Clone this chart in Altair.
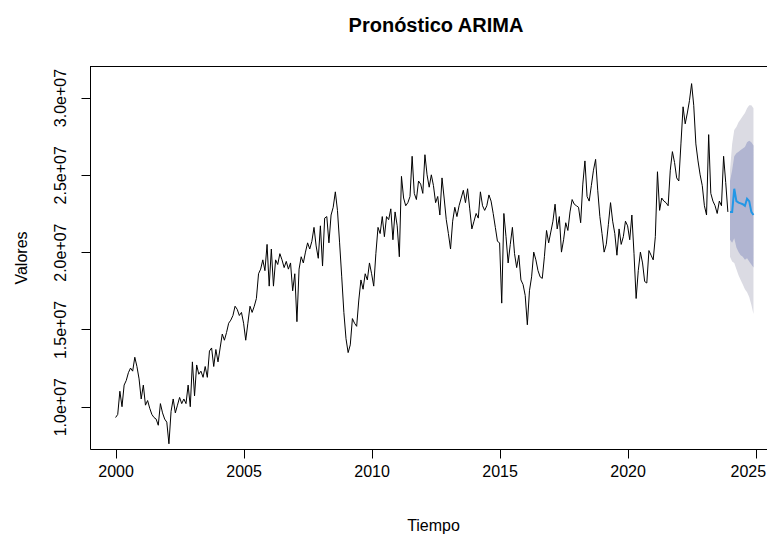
import altair as alt
import pandas as pd

# Monthly values (millions), Jan..Dec of each year
years = list(range(2000, 2024))
v2000 = [9.3, 9.5, 11.0, 10.0, 11.4, 11.7, 12.2, 12.5, 12.3, 13.2, 12.6, 11.8]
v2001 = [10.5, 11.4, 10.1, 10.4, 9.9, 9.5, 9.3, 9.2, 8.8, 10.2, 9.6, 9.2]
v2002 = [9.0, 7.6, 9.7, 10.5, 9.6, 10.1, 10.6, 10.2, 10.5, 10.2, 11.4, 10.0]
v2003 = [12.9, 10.7, 12.7, 12.1, 12.3, 11.9, 12.6, 11.9, 13.6, 13.8, 12.6, 13.7]
v2004 = [12.9, 13.8, 14.7, 14.3, 14.8, 15.4, 15.6, 15.9, 16.5, 16.3, 15.9, 16.1]
v2005 = [15.4, 14.3, 15.4, 16.5, 16.1, 16.5, 17.0, 18.6, 18.9, 19.5, 18.8, 20.5]
v2006 = [17.8, 20.2, 17.8, 19.5, 19.2, 19.9, 19.5, 19.0, 19.4, 18.9, 19.3, 17.5]
v2007 = [18.6, 15.5, 18.9, 19.7, 19.3, 20.0, 20.6, 20.2, 20.7, 21.6, 20.4, 19.6]
v2008 = [21.7, 19.1, 22.2, 22.3, 20.6, 22.4, 22.9, 23.9, 22.7, 20.6, 18.4, 16.1]
v2009 = [14.4, 13.5, 14.0, 15.7, 15.4, 15.2, 16.9, 18.2, 17.6, 18.6, 18.2, 19.3]
v2010 = [18.6, 17.8, 19.9, 21.6, 21.2, 22.3, 21.0, 22.3, 22.1, 22.8, 20.8, 22.6]
v2011 = [21.7, 19.7, 24.9, 23.5, 23.0, 23.2, 23.6, 26.2, 23.8, 23.4, 24.6, 24.4]
v2012 = [23.8, 26.3, 25.0, 24.2, 25.0, 24.3, 23.2, 23.6, 22.4, 24.8, 23.5, 22.1]
v2013 = [21.2, 20.2, 22.0, 22.9, 22.3, 23.0, 23.5, 24.0, 23.2, 24.1, 22.8, 21.5]
v2014 = [22.0, 22.5, 22.2, 23.9, 23.0, 22.7, 23.0, 23.7, 23.3, 22.5, 21.6, 20.7]
v2015 = [20.6, 16.7, 22.5, 21.0, 19.3, 20.5, 21.6, 19.9, 19.0, 19.8, 18.2, 17.9]
v2016 = [17.2, 15.3, 17.5, 18.4, 20.0, 19.5, 18.8, 18.4, 18.3, 19.7, 21.4, 20.6]
v2017 = [21.3, 22.0, 23.1, 21.5, 22.3, 20.0, 20.8, 21.9, 21.4, 22.6, 23.4, 23.1]
v2018 = [23.0, 22.9, 21.9, 24.4, 25.9, 23.6, 23.3, 24.3, 25.3, 26.0, 24.0, 22.3]
v2019 = [21.2, 20.0, 20.5, 21.8, 23.2, 22.0, 21.2, 19.8, 21.5, 20.5, 21.0, 22.0]
v2020 = [21.7, 20.8, 22.4, 19.9, 17.0, 18.8, 20.0, 19.3, 18.1, 18.0, 20.1, 19.8]
v2021 = [19.5, 21.0, 25.2, 22.7, 23.5, 23.3, 23.2, 23.0, 25.3, 26.5, 25.8, 24.8]
v2022 = [24.6, 27.0, 29.4, 28.3, 29.0, 29.8, 30.9, 29.5, 27.0, 25.9, 25.0, 24.3]
v2023 = [23.0, 22.4, 27.6, 23.8, 23.3, 23.0, 22.5, 23.3, 23.0, 26.2, 24.5, 22.6]
hist_by_year = [v2000, v2001, v2002, v2003, v2004, v2005, v2006, v2007, v2008,
                v2009, v2010, v2011, v2012, v2013, v2014, v2015, v2016, v2017,
                v2018, v2019, v2020, v2021, v2022, v2023]

# Forecast 2024 (millions)
fc_year = 2024
fc_mean = [22.6, 22.6, 24.1, 23.3, 23.2, 23.15, 23.1, 23.0, 23.45, 23.3, 22.6, 22.4]
fc_lo80 = [20.8, 20.6, 20.9, 20.3, 20.0, 19.8, 19.7, 19.5, 19.6, 19.4, 19.2, 19.0]
fc_hi80 = [24.6, 25.3, 26.2, 26.4, 26.5, 26.6, 26.7, 26.8, 27.1, 27.2, 27.1, 26.9]
fc_lo95 = [19.7, 19.4, 19.3, 18.9, 18.5, 18.2, 17.9, 17.6, 17.4, 17.1, 16.6, 16.0]
fc_hi95 = [25.3, 27.0, 27.9, 28.1, 28.4, 28.6, 28.8, 29.0, 29.3, 29.5, 29.5, 29.3]

x_ticks = [2000, 2005, 2010, 2015, 2020, 2025]
y_ticks = [1.0e7, 1.5e7, 2.0e7, 2.5e7, 3.0e7]
title_text = "Pronóstico ARIMA"

rows = []
for yr, vals in zip(years, hist_by_year):
    for m, v in enumerate(vals):
        rows.append({"t": yr + m / 12, "valor": v * 1e6})
hist = pd.DataFrame(rows)

fc = pd.DataFrame({
    "t": [fc_year + m / 12 for m in range(12)],
    "media": [v * 1e6 for v in fc_mean],
    "lo80": [v * 1e6 for v in fc_lo80],
    "hi80": [v * 1e6 for v in fc_hi80],
    "lo95": [v * 1e6 for v in fc_lo95],
    "hi95": [v * 1e6 for v in fc_hi95],
})

W, H = 677, 383
FONT = "Liberation Sans"
xs = alt.Scale(domain=[1999.0, 1999.0 + W / 25.6], nice=False, zero=False)
ys = alt.Scale(domain=[7.264e6, 32.04e6], nice=False, zero=False)

xaxis = alt.Axis(values=x_ticks, format="d", tickSize=9, tickColor="black",
                 domainColor="black", domainWidth=1, tickWidth=1,
                 labelFont=FONT, labelFontSize=16,
                 labelColor="black", labelPadding=5, labelAngle=0,
                 labelBaseline="top",
                 labelFlush=15, labelFlushOffset=10,
                 labelOverlap=False, grid=False, title="Tiempo",
                 titleFont=FONT, titleFontSize=16, titleFontWeight="normal",
                 titleColor="black", titleX=343, titleY=81,
                 titleBaseline="alphabetic", titleAlign="center")
yaxis = alt.Axis(values=y_ticks,
                 labelExpr="replace(format(datum.value, '.1e'), 'e+', 'e+0')",
                 tickSize=9, tickColor="black", domainColor="black",
                 domainWidth=1, tickWidth=1,
                 labelFont=FONT, labelFontSize=16, labelColor="black",
                 labelAngle=270, labelAlign="center", labelBaseline="alphabetic",
                 labelPadding=16, labelFlush=False, labelOverlap=False,
                 grid=False, title="Valores", titleFont=FONT, titleFontSize=16,
                 titleFontWeight="normal", titleColor="black", titleAngle=270,
                 titleX=-64, titleY=H / 2, titleBaseline="alphabetic",
                 titleAlign="center")

X = alt.X("t:Q", scale=xs, axis=xaxis)

band95 = alt.Chart(fc).mark_area(color="#DBDBE3", opacity=1).encode(
    x=X,
    y=alt.Y("lo95:Q", scale=ys, axis=yaxis),
    y2="hi95:Q",
)
band80 = alt.Chart(fc).mark_area(color="#B1B5D1", opacity=1).encode(
    x=X,
    y=alt.Y("lo80:Q", scale=ys, axis=yaxis),
    y2="hi80:Q",
)
hist_line = alt.Chart(hist).mark_line(color="black", strokeWidth=1).encode(
    x=X,
    y=alt.Y("valor:Q", scale=ys, axis=yaxis),
)
fc_line = alt.Chart(fc).mark_line(color="#2297E6", strokeWidth=2).encode(
    x=X,
    y=alt.Y("media:Q", scale=ys, axis=yaxis),
)
top_rule = alt.Chart(pd.DataFrame({"a": [0]})).mark_rule(
    color="black", strokeWidth=1).encode(
    x=alt.value(0), x2=alt.value(W), y=alt.value(0.5))
title_mark = alt.Chart(pd.DataFrame({"txt": [title_text]})).mark_text(
    font=FONT, fontSize=20, fontWeight="bold", color="black",
    align="center", baseline="alphabetic").encode(
    text="txt:N", x=alt.value(346), y=alt.value(-34))

chart = alt.layer(band95, band80, hist_line, fc_line, top_rule, title_mark).properties(
    width=W, height=H,
    padding={"left": 82, "top": 58, "right": 0, "bottom": 85},
    autosize=alt.AutoSizeParams(type="none"),
).configure_view(stroke=None).configure(background="white")

chart.save("out.html", embed_options={"renderer": "svg", "actions": False})
